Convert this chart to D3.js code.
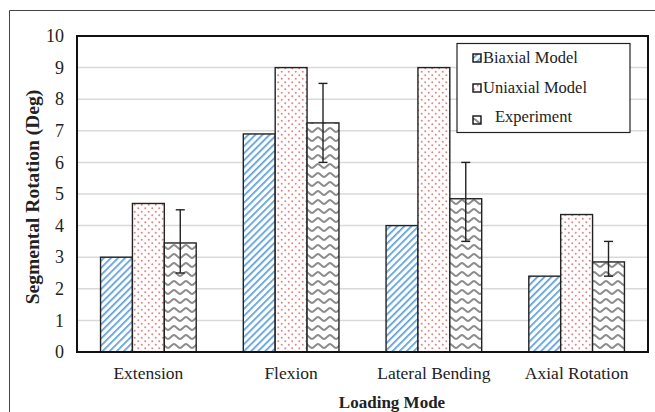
<!DOCTYPE html>
<html><head><meta charset="utf-8">
<script src="https://cdn.jsdelivr.net/npm/d3@7"></script>
<style>body{margin:0;background:#fff}svg{display:block;font-family:"Liberation Serif","Times New Roman",serif}</style>
</head><body>
<svg id="c" width="655" height="412"></svg>
<script>
const categories = ["Extension", "Flexion", "Lateral Bending", "Axial Rotation"];
const seriesNames = ["Biaxial Model", "Uniaxial Model", "Experiment"];
const biaxial = [3.0, 6.9, 4.0, 2.4];
const uniaxial = [4.7, 9.0, 9.0, 4.35];
const experiment = [3.45, 7.25, 4.85, 2.85];
const expLow = [2.5, 6.0, 3.5, 2.4];
const expHigh = [4.5, 8.5, 6.0, 3.5];
const yTicks = [0,1,2,3,4,5,6,7,8,9,10];

const svg = d3.select("#c");
const m = {l:77, t:36, r:648, b:352};
const x = d3.scaleBand().domain(categories).range([m.l, m.r]).paddingInner(0.33).paddingOuter(0.165);
const xs = d3.scaleBand().domain(seriesNames).range([0, x.bandwidth()]);
const y = d3.scaleLinear().domain([0,10]).range([m.b, m.t]);

const defs = svg.append("defs");
// stripes
const p1 = defs.append("pattern").attr("id","pBi").attr("patternUnits","userSpaceOnUse").attr("width",5).attr("height",5).attr("patternTransform","rotate(45)");
p1.append("rect").attr("width",5).attr("height",5).attr("fill","#fff");
p1.append("rect").attr("x",0).attr("width",1.7).attr("height",5).attr("fill","#5b9fdc");
// dots
const p2 = defs.append("pattern").attr("id","pUni").attr("patternUnits","userSpaceOnUse").attr("width",7).attr("height",7);
p2.append("rect").attr("width",7).attr("height",7).attr("fill","#fff");
p2.append("circle").attr("cx",1.75).attr("cy",1.75).attr("r",1).attr("fill","#e48585");
p2.append("circle").attr("cx",5.25).attr("cy",5.25).attr("r",1).attr("fill","#e48585");
// waves
const p3 = defs.append("pattern").attr("id","pExp").attr("patternUnits","userSpaceOnUse").attr("width",12).attr("height",9);
p3.append("rect").attr("width",12).attr("height",9).attr("fill","#fff");
p3.append("path").attr("d","M0,6 C1.8,6 4.2,2 6,2 C7.8,2 10.2,6 12,6").attr("stroke","#8c8c8c").attr("stroke-width",1.9).attr("fill","none");
const fills = ["url(#pBi)","url(#pUni)","url(#pExp)"];

// outer frame
svg.append("path").attr("d","M9.5,412 V10.5 H655").attr("fill","none").attr("stroke","#444").attr("stroke-width",1);

// grid
svg.append("g").selectAll("line").data(yTicks.filter(d=>d>0)).join("line")
  .attr("x1",m.l).attr("x2",m.r).attr("y1",d=>y(d)).attr("y2",d=>y(d))
  .attr("stroke","#d9d9d9").attr("stroke-width",1.5);

// y axis labels
const yAxis = d3.axisLeft(y).tickValues(yTicks).tickSize(0).tickPadding(13);
const ya = svg.append("g").attr("transform",`translate(${m.l},0)`).call(yAxis);
ya.select(".domain").remove();
ya.selectAll("text").attr("font-size",18).attr("fill","#222").attr("font-family","Liberation Serif");

// bars
const data = [biaxial, uniaxial, experiment];
data.forEach((arr,si)=>{
  svg.append("g").selectAll("rect").data(arr).join("rect")
    .attr("x",(d,i)=>x(categories[i])+xs(seriesNames[si]))
    .attr("y",d=>y(d)).attr("width",xs.bandwidth()).attr("height",d=>y(0)-y(d))
    .attr("fill",fills[si]).attr("stroke","#222").attr("stroke-width",1.4);
});

// error bars
const eg = svg.append("g").attr("stroke","#222").attr("stroke-width",1.4);
categories.forEach((c,i)=>{
  const cx = x(c)+xs("Experiment")+xs.bandwidth()/2;
  eg.append("line").attr("x1",cx).attr("x2",cx).attr("y1",y(expLow[i])).attr("y2",y(expHigh[i]));
  eg.append("line").attr("x1",cx-4.5).attr("x2",cx+4.5).attr("y1",y(expLow[i])).attr("y2",y(expLow[i]));
  eg.append("line").attr("x1",cx-4.5).attr("x2",cx+4.5).attr("y1",y(expHigh[i])).attr("y2",y(expHigh[i]));
});

// plot border
svg.append("rect").attr("x",m.l).attr("y",m.t).attr("width",m.r-m.l).attr("height",m.b-m.t)
  .attr("fill","none").attr("stroke","#111").attr("stroke-width",2);

// x axis labels
const xAxis = d3.axisBottom(x).tickSize(0).tickPadding(0);
const xa = svg.append("g").attr("transform",`translate(0,${m.b})`).call(xAxis);
xa.select(".domain").remove();
xa.selectAll("text").attr("font-size",17.5).attr("fill","#222").attr("dy",0).attr("y",27).attr("font-family","Liberation Serif");

// axis titles
svg.append("text").attr("x",392).attr("y",408).attr("text-anchor","middle").attr("font-weight","bold").attr("font-size",17).attr("fill","#222").text("Loading Mode");
svg.append("text").attr("transform","translate(39,197) rotate(-90)").attr("text-anchor","middle").attr("font-weight","bold").attr("font-size",19.5).attr("fill","#222").text("Segmental Rotation (Deg)");

// legend
const lg = svg.append("g");
lg.append("rect").attr("x",457).attr("y",43.5).attr("width",173).attr("height",89).attr("fill","#fff").attr("stroke","#222").attr("stroke-width",1.2);
const rowsY = [58, 88, 117];
const textX = [483, 483, 495];
seriesNames.forEach((s,i)=>{
  lg.append("rect").attr("x",473).attr("y",rowsY[i]-4+(i==2?3:0)).attr("width",8).attr("height",8).attr("fill",fills[i]).attr("stroke","#111").attr("stroke-width",1.4);
  lg.append("text").attr("x",textX[i]).attr("y",rowsY[i]+5).attr("font-size",16.5).attr("fill","#222").text(s);
});
</script>
</body></html>
